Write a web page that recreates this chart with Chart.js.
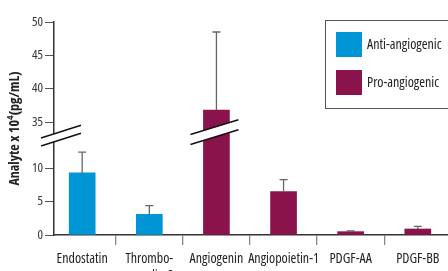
<!DOCTYPE html>
<html>
<head>
<meta charset="utf-8">
<script src="https://cdn.jsdelivr.net/npm/chart.js@4/dist/chart.umd.min.js"></script>
<style>
  html, body { margin: 0; padding: 0; background: #fff; }
  canvas { display: block; }
</style>
</head>
<body>
<canvas id="analyteChart" width="448" height="271"></canvas>
<script>
// ===== Data =====
const categories = ['Endostatin', ['Thrombo-', 'spondin-2'], 'Angiogenin', 'Angiopoietin-1', 'PDGF-AA', 'PDGF-BB'];
const antiValues = [9.3, 3.1, null, null, null, null];
const antiErrors = [3.1, 1.3, null, null, null, null];
const proValues = [null, null, 36.8, 6.5, 0.5, 0.9];
const proErrors = [null, null, 11.7, 1.8, 0.1, 0.4];
const yTicks = [0, 5, 10, 35, 40, 45, 50];

// Open Sans has a condensed face; Chart.js passes "weight" straight into the font string
const FONT = "'Open Sans', sans-serif";
const BLUE = '#0095d4';
const MAROON = '#8a134b';

// ===== Linear scale with a gap between the low and high ranges =====
class BrokenScale extends Chart.LinearScale {
  toUnits(v) {
    const b = this.options.gap;
    if (v <= b.from) return v;
    if (v >= b.to) return v - (b.to - b.from) + b.size;
    return b.from + (v - b.from) / (b.to - b.from) * b.size;
  }
  buildTicks() {
    return yTicks.map(v => ({ value: v }));
  }
  getPixelForValue(v) {
    const lo = this.toUnits(this.min);
    const hi = this.toUnits(this.max);
    return this.getPixelForDecimal((this.toUnits(v) - lo) / (hi - lo));
  }
}
BrokenScale.id = 'broken';
BrokenScale.defaults = Chart.LinearScale.defaults;
Chart.register(BrokenScale);

// Error bars on top of each bar
const errorBars = {
  id: 'errorBars',
  afterDatasetsDraw(chart) {
    const { ctx } = chart;
    const y = chart.scales.y;
    ctx.save();
    ctx.strokeStyle = '#666';
    ctx.lineWidth = 1.3;
    chart.data.datasets.forEach((ds, di) => {
      chart.getDatasetMeta(di).data.forEach((bar, i) => {
        const v = ds.data[i];
        const e = ds.errors[i];
        if (v == null || e == null) return;
        const top = y.getPixelForValue(v + e);
        ctx.beginPath();
        ctx.moveTo(bar.x, bar.y);
        ctx.lineTo(bar.x, top);
        ctx.moveTo(bar.x - 4, top);
        ctx.lineTo(bar.x + 4, top);
        ctx.stroke();
      });
    });
    ctx.restore();
  }
};

// Break marks on the axis and on the tall bar
function drawBreak(ctx, cx, cy, left, right, slope, sep) {
  const y1 = x => cy - sep / 2 + (x - cx) * slope;
  ctx.fillStyle = '#fff';
  ctx.beginPath();
  ctx.moveTo(cx + left, y1(cx + left));
  ctx.lineTo(cx + right, y1(cx + right));
  ctx.lineTo(cx + right, y1(cx + right) + sep);
  ctx.lineTo(cx + left, y1(cx + left) + sep);
  ctx.closePath();
  ctx.fill();
  ctx.strokeStyle = '#111';
  ctx.lineWidth = 1.4;
  ctx.beginPath();
  ctx.moveTo(cx + left, y1(cx + left));
  ctx.lineTo(cx + right, y1(cx + right));
  ctx.moveTo(cx + left, y1(cx + left) + sep);
  ctx.lineTo(cx + right, y1(cx + right) + sep);
  ctx.stroke();
}

const breakMarks = {
  id: 'breakMarks',
  afterDraw(chart) {
    const { ctx, chartArea } = chart;
    const y = chart.scales.y;
    const gap = y.options.gap;
    ctx.save();
    drawBreak(ctx, chartArea.left, y.getPixelForValue((gap.from + gap.to) / 2) - 1, -13, 27, -0.32, 8);
    chart.data.datasets.forEach((ds, di) => {
      chart.getDatasetMeta(di).data.forEach((bar, i) => {
        if (ds.data[i] != null && ds.data[i] > gap.to) {
          drawBreak(ctx, bar.x, y.getPixelForValue(gap.to + 0.3), -26, 22, -0.306, 10);
        }
      });
    });
    ctx.restore();
  }
};

// Boxed legend at the upper right
const boxLegend = {
  id: 'boxLegend',
  afterDraw(chart) {
    const { ctx } = chart;
    ctx.save();
    ctx.strokeStyle = '#555';
    ctx.lineWidth = 1;
    ctx.strokeRect(325.5, 20.5, 140, 88);
    ctx.font = 'condensed 14px ' + FONT;
    ctx.textBaseline = 'middle';
    chart.data.datasets.forEach((ds, i) => {
      const top = 32 + i * 38;
      ctx.fillStyle = ds.backgroundColor;
      ctx.fillRect(336, top, 26, 25);
      ctx.fillStyle = '#222';
      ctx.fillText(ds.label, 367, top + 13);
    });
    ctx.restore();
  }
};

const ctx = document.getElementById('analyteChart').getContext('2d');
new Chart(ctx, {
  type: 'bar',
  data: {
    labels: categories,
    datasets: [
      { label: 'Anti-angiogenic', data: antiValues, errors: antiErrors, backgroundColor: BLUE },
      { label: 'Pro-angiogenic', data: proValues, errors: proErrors, backgroundColor: MAROON }
    ]
  },
  options: {
    responsive: false,
    animation: false,
    skipNull: true,
    barThickness: 26,
    layout: { padding: { top: 22, left: 0, right: 0, bottom: 0 } },
    scales: {
      x: {
        offset: true,
        afterBuildTicks: s => { s._startValue = -0.42; s._valueRange = 5.87; },
        afterFit: s => { s.height = 36; },
        grid: { offset: true, drawOnChartArea: false, drawTicks: true, tickLength: 10, color: '#888', lineWidth: 1.3 },
        border: { color: '#333', width: 1.5 },
        ticks: { color: '#222', padding: 6, font: { family: FONT, size: 14, weight: 'normal condensed' }, maxRotation: 0, autoSkip: false }
      },
      y: {
        type: 'broken',
        min: 0,
        max: 50,
        gap: { from: 13.6, to: 33.3, size: 1.6 },
        afterFit: s => { s.width = 54; },
        grid: { drawOnChartArea: false, drawTicks: true, tickLength: 9, color: '#555', lineWidth: 1 },
        border: { color: '#333', width: 1.5 },
        ticks: { color: '#333', padding: 2, font: { family: FONT, size: 13, weight: 'normal condensed' } },
        title: {
          display: true,
          text: 'Analyte x 10⁴(pg/mL)',
          color: '#222',
          font: { family: FONT, size: 14, weight: 'bold condensed' },
          padding: { top: 7, bottom: 0 }
        }
      }
    },
    plugins: {
      legend: { display: false },
      tooltip: { enabled: false }
    }
  },
  plugins: [errorBars, breakMarks, boxLegend]
});
</script>
</body>
</html>
